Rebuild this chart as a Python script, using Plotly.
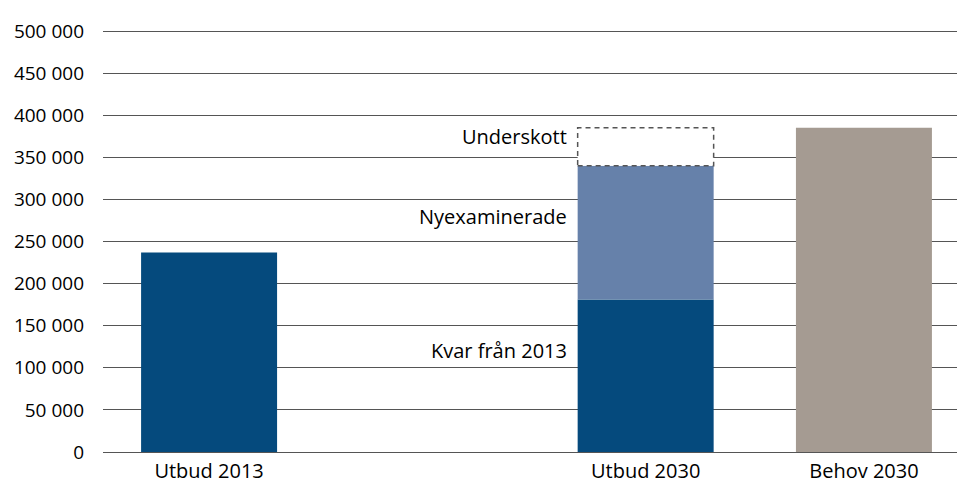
import plotly.graph_objects as go

# categories (an empty slot sits between 2013 and 2030)
categories = ["Utbud 2013", " ", "Utbud 2030", "Behov 2030"]

kvar_x = ["Utbud 2013", "Utbud 2030"]
kvar_values = [237000, 181000]

nyexam_x = ["Utbud 2030"]
nyexam_values = [159000]

behov_x = ["Behov 2030"]
behov_values = [385000]

segment_labels = ["Kvar från 2013", "Nyexaminerade", "Underskott"]

y_ticks = [0, 50000, 100000, 150000, 200000, 250000, 300000, 350000, 400000, 450000, 500000]

DARK_BLUE = "#054a7d"
LIGHT_BLUE = "#6681aa"
GREY = "#a59b92"
GRID = "#555555"
FONT = dict(family="Open Sans, sans-serif", size=20, color="#000000")
TICK_FONT = dict(family="Open Sans, sans-serif", size=19, color="#000000")
BAR_W = 0.623

# the page body has an 8px margin, so the figure is shrunk by that much
PAGE_PAD = 8

fig = go.Figure()

fig.add_trace(go.Bar(
  x=kvar_x, y=kvar_values, width=BAR_W,
  marker=dict(color=DARK_BLUE, line_width=0)
))
fig.add_trace(go.Bar(
  x=nyexam_x, y=nyexam_values, base=[kvar_values[1]], width=BAR_W,
  marker=dict(color=LIGHT_BLUE, line_width=0)
))
fig.add_trace(go.Bar(
  x=behov_x, y=behov_values, width=BAR_W,
  marker=dict(color=GREY, line_width=0)
))

# shortfall box (dashed outline) from supply top to demand
idx = categories.index("Utbud 2030")
supply_top = kvar_values[1] + nyexam_values[0]
fig.add_shape(
  type="rect", xref="x", yref="y",
  x0=idx - BAR_W / 2, x1=idx + BAR_W / 2,
  y0=supply_top, y1=behov_values[0],
  line=dict(color=GRID, width=1.5, dash="5px,4px"),
  fillcolor="white", layer="above"
)

label_y = [121000, 280000, 375000]
for text, yv in zip(segment_labels, label_y):
  fig.add_annotation(
    x=idx - BAR_W / 2, y=yv, xref="x", yref="y",
    text=text, showarrow=False, xanchor="right", xshift=-9,
    font=FONT
  )

fig.update_layout(
  barmode="overlay",
  showlegend=False,
  width=965 - PAGE_PAD, height=486 - PAGE_PAD,
  margin=dict(l=103 - PAGE_PAD, r=0, t=30 - PAGE_PAD, b=34),
  plot_bgcolor="white",
  paper_bgcolor="white",
  separators=", ",
  font=FONT,
  xaxis=dict(
    type="category",
    categoryorder="array",
    categoryarray=categories,
    range=[-0.486, 3.463],
    automargin=False,
    showgrid=False,
    showline=False,
    zeroline=False,
    ticks="",
    ticklabelstandoff=5,
    tickfont=FONT
  ),
  yaxis=dict(
    range=[0, 501200],
    tickvals=y_ticks,
    tickformat=",d",
    automargin=False,
    showgrid=True,
    gridcolor=GRID,
    gridwidth=1,
    zeroline=True,
    zerolinecolor=GRID,
    zerolinewidth=1,
    showline=False,
    ticks="",
    ticklabelstandoff=18,
    tickfont=TICK_FONT
  )
)

fig.write_html("out.html")
